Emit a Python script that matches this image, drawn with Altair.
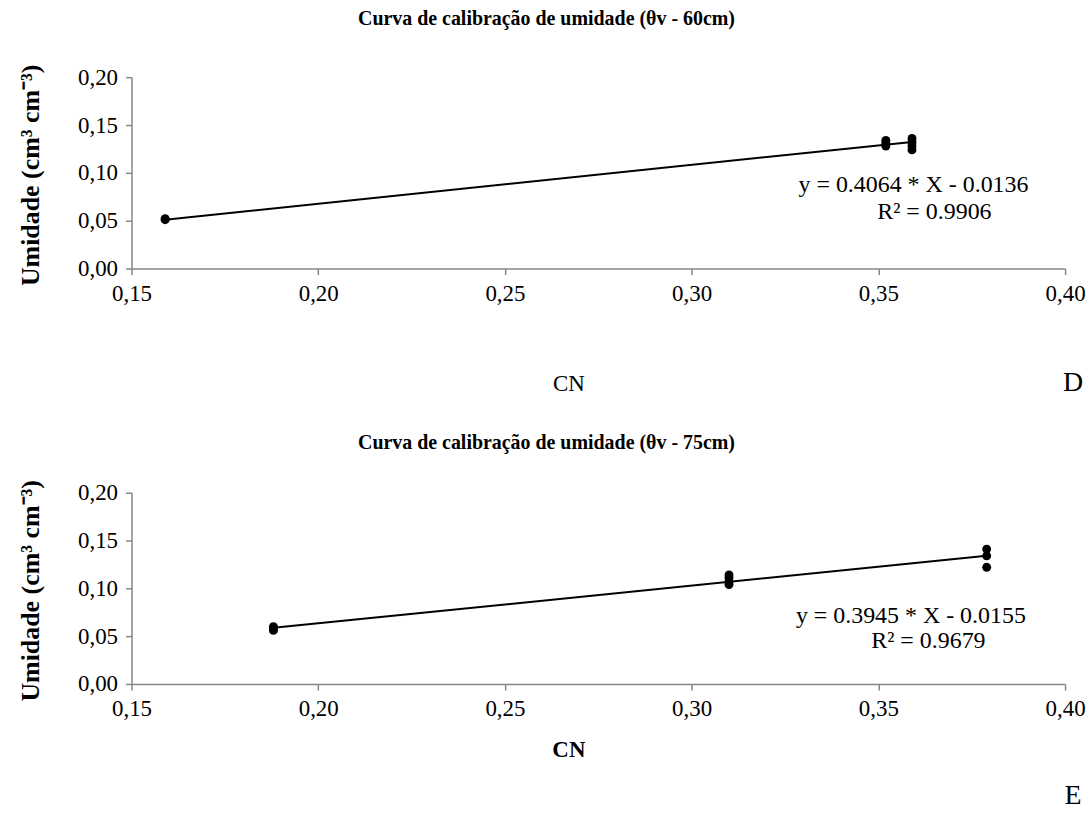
import altair as alt
import pandas as pd

# Calibration readings (CN vs volumetric moisture) at two depths
cn_60 = [0.159, 0.159, 0.352, 0.352, 0.352, 0.359, 0.359, 0.359, 0.359]
um_60 = [0.051, 0.052, 0.134, 0.131, 0.128, 0.136, 0.132, 0.128, 0.124]
slope_60, icpt_60, r2_60 = 0.4064, -0.0136, 0.9906

cn_75 = [0.188, 0.188, 0.188, 0.310, 0.310, 0.310, 0.310, 0.379, 0.379, 0.379]
um_75 = [0.060, 0.058, 0.056, 0.114, 0.111, 0.107, 0.104, 0.141, 0.134, 0.122]
slope_75, icpt_75, r2_75 = 0.3945, -0.0155, 0.9679

x_ticks = [0.15, 0.20, 0.25, 0.30, 0.35, 0.40]
y_ticks = [0.00, 0.05, 0.10, 0.15, 0.20]

FONT = "Liberation Serif"
W, H = 937, 192
AXIS_GRAY = "#868686"
comma_fmt = "replace(format(datum.value, '.2f'), '.', ',')"


def panel(cn, um, slope, icpt, r2, title, title_offset, eq_pos, r2_pos,
          letter, letter_dy, x_title_dy, x_bold):
    pts = pd.DataFrame({"cn": cn, "um": um})
    x0, x1 = min(cn), max(cn)
    fit = pd.DataFrame({"cn": [x0, x1], "um": [slope * x0 + icpt, slope * x1 + icpt]})
    sign = "-" if icpt < 0 else "+"
    labels = pd.DataFrame({
        "cn": [eq_pos[0], r2_pos[0]],
        "um": [eq_pos[1], r2_pos[1]],
        "txt": [f"y = {slope:.4f} * X {sign} {abs(icpt):.4f}", f"R² = {r2:.4f}"],
    })

    x_enc = alt.X("cn:Q", scale=alt.Scale(domain=[0.15, 0.40], nice=False),
                  axis=alt.Axis(values=x_ticks, labelExpr=comma_fmt, labelFlush=False,
                                title="CN",
                                titleFontWeight="bold" if x_bold else "normal",
                                titleX=W / 2 - 30, titleY=x_title_dy,
                                titleBaseline="middle"))
    y_enc = alt.Y("um:Q", scale=alt.Scale(domain=[0, 0.20], nice=False),
                  axis=alt.Axis(values=y_ticks, labelExpr=comma_fmt, labelFlush=False,
                                title="Umidade (cm³ cm⁻³)", titleFontWeight="bold",
                                titleFontSize=26,
                                titleX=-101, titleY=H / 2 + 2, titleBaseline="middle"))

    line = alt.Chart(fit).mark_line(color="black", strokeWidth=2).encode(x=x_enc, y=y_enc)
    dots = alt.Chart(pts).mark_circle(color="black", opacity=1, size=80).encode(x="cn:Q", y="um:Q")
    eq = alt.Chart(labels).mark_text(font=FONT, fontSize=24, color="black").encode(
        x="cn:Q", y="um:Q", text="txt:N")
    tag = alt.Chart(pd.DataFrame({"t": [letter]})).mark_text(
        font=FONT, fontSize=28, color="black", align="center", baseline="middle"
    ).encode(x=alt.value(945), y=alt.value(H + letter_dy), text="t:N")

    return alt.layer(line, dots, eq, tag).properties(
        width=W, height=H,
        title=alt.TitleParams(title, font=FONT, fontSize=20, fontWeight="bold",
                              color="black", offset=title_offset, anchor="middle",
                              dx=-52),
    )


top = panel(cn_60, um_60, slope_60, icpt_60, r2_60,
            "Curva de calibração de umidade (θv - 60cm)", 35,
            (0.3594, 0.0870), (0.3650, 0.0595), "D", 115, 115, False)
bottom = panel(cn_75, um_75, slope_75, icpt_75, r2_75,
               "Curva de calibração de umidade (θv - 75cm)", 27,
               (0.3587, 0.0712), (0.3634, 0.0450), "E", 112, 66, True)

chart = alt.vconcat(top, bottom, spacing=35).properties(
    padding={"left": 17, "top": 7, "right": 5, "bottom": 0}
).configure_view(stroke=None).configure_axis(
    grid=False, domainColor=AXIS_GRAY, tickColor=AXIS_GRAY, tickSize=6,
    domainWidth=1.5, tickWidth=1.5,
    labelFont=FONT, labelFontSize=23, labelColor="black",
    titleFont=FONT, titleFontSize=23, titleColor="black",
).configure_axisX(labelPadding=8).configure_axisY(labelPadding=8)

chart.save("out.html", embed_options={"renderer": "svg", "actions": False})
